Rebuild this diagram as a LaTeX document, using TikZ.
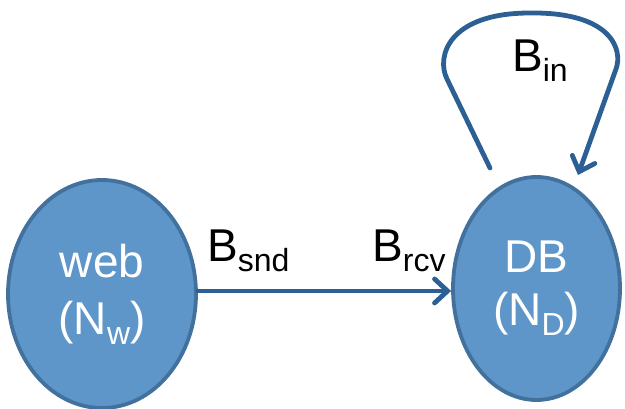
\documentclass[tikz,border=0pt]{standalone}
\usepackage{fontspec}
\setmainfont{Liberation Sans}
\usetikzlibrary{arrows.meta,shapes.geometric,calc}
\definecolor{nodefill}{HTML}{5E96C9}
\definecolor{nodeedge}{HTML}{43719D}
\definecolor{linkblue}{HTML}{2C5F94}
\newcommand{\sub}[1]{\raisebox{-10pt}{\fontsize{32}{32}\selectfont #1}}
\begin{document}
\begin{tikzpicture}[x=1pt,y=1pt,
  host/.style={ellipse,draw=nodeedge,line width=3.8pt,fill=nodefill,inner sep=0pt,
    text=white,align=center},
  link/.style={draw=linkblue,line width=4.8pt,line cap=round,line join=round,
    -{Straight Barb[length=13pt,width=24pt,line cap=round]}},
  lbl/.style={anchor=base west,inner sep=0pt,font=\fontsize{46}{46}\selectfont}]
\useasboundingbox (0,0) rectangle (625,409);
\node[host,minimum width=188pt,minimum height=228pt,
  font=\fontsize{46}{57}\selectfont] (web) at (102,115) {web\\(N\sub{w})};
\node[host,minimum width=167pt,minimum height=223pt,
  font=\fontsize{46}{53}\selectfont] (db) at (536.5,120.5) {DB\\(N\sub{D})};
\coordinate (loopstart) at (490,241);
\coordinate (loopend) at (578,234);
\draw[link] ($(web.east)+(0,3)$) -- ($(db.west)+(0,-2.5)$);
\draw[link] (loopstart) -- (447,330) .. controls (436,352) and (448,396) .. (530,396)
  .. controls (612,397) and (623,359) .. (616,340) -- (loopend);
\node[lbl] (snd) at (207,147) {B\sub{snd}};
\node[lbl] (rcv) at (372,147) {B\sub{rcv}};
\node[lbl] (in) at (512,337) {B\sub{in}};
\end{tikzpicture}
\end{document}
